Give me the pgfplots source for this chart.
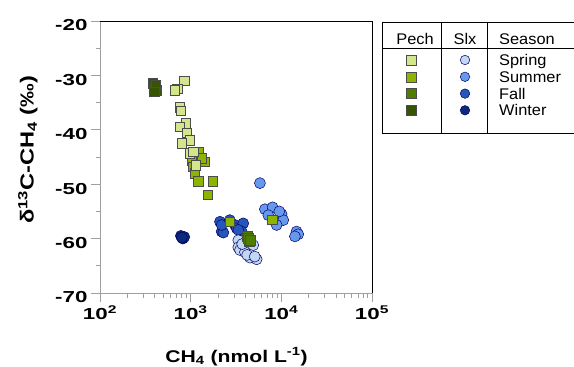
\documentclass[border=0pt]{standalone}
\usepackage{pgfplots}
\pgfplotsset{compat=1.18}
\usepackage{fontspec}
\setmainfont{Liberation Sans}
\newfontfamily\widefont[FakeStretch=1.4]{Liberation Sans}
\newfontfamily\labelfont[FakeStretch=1.25]{Liberation Sans}
\newfontfamily\legfont[FakeStretch=1.06]{Liberation Sans}
\definecolor{pspring}{HTML}{D4E68C}
\definecolor{psummer}{HTML}{8CB400}
\definecolor{pfall}{HTML}{4F7D00}
\definecolor{pwinter}{HTML}{375400}
\definecolor{sspring}{HTML}{C2D8F2}
\definecolor{ssummer}{HTML}{6699EE}
\definecolor{sfall}{HTML}{2656BB}
\definecolor{swinter}{HTML}{0D2A7A}
\tikzset{lt/.style={font=\legfont\fontsize{15.5}{18}\selectfont, inner sep=0pt}}
\pgfplotsset{
  pech/.style={only marks, mark=square*, mark size=4.75bp,
    mark options={draw=black!70, line width=0.5pt, fill=#1}},
  slx/.style={only marks, mark=*, mark size=5.5bp,
    mark options={draw=black!60!blue, line width=0.5pt, fill=#1}},
  lpech/.style={only marks, mark=square*, mark size=5bp,
    mark options={draw=black!70, line width=0.5pt, fill=#1}},
  lslx/.style={only marks, mark=*, mark size=4.75bp,
    mark options={draw=black!60!blue, line width=0.5pt, fill=#1}},
}
\begin{document}
\begin{tikzpicture}
\path[use as bounding box] (0,0) rectangle (574bp,367bp);
\begin{axis}[
  at={(100bp,74bp)}, anchor=south west, scale only axis,
  width=272bp, height=272bp,
  xmode=log, xmin=100, xmax=100000, ymin=-70, ymax=-20,
  axis lines*=left,
  axis line style={draw=gray!75, line width=0.8pt},
  tick style={draw=gray!75, line width=0.8pt},
  tick align=outside, major tick length=9bp, minor tick length=4.5bp,
  xtick={100,1000,10000,100000},
  xticklabels={10\textsuperscript{2},10\textsuperscript{3},10\textsuperscript{4},10\textsuperscript{5}},
  ytick={-70,-60,-50,-40,-30,-20},
  yticklabels={-70,-60,-50,-40,-30,-20},
  minor ytick={-65,-55,-45,-35,-25},
  ticklabel style={font=\widefont\bfseries\fontsize{16}{19}\selectfont, text=black},
  yticklabel style={yshift=-4.5bp},
  xlabel={CH\textsubscript{4} (nmol L\textsuperscript{-1})},
  ylabel={δ\textsuperscript{13}C-CH\textsubscript{4} (‰)},
  xlabel style={font=\labelfont\bfseries\fontsize{17}{20}\selectfont, at={(axis description cs:0.502,-0.2537)}, anchor=base},
  ylabel style={font=\labelfont\bfseries\fontsize{19}{22}\selectfont, at={(axis description cs:-0.265,0.526)}, anchor=center},
  clip=false,
]
% Slx circles
\addplot[slx=sfall] coordinates {(2105,-56.9) (2198,-58.7) (2293,-58.9) (2198,-57.5) (3083,-57.5) (3216,-58.1) (3800,-57.2) (3650,-58.7) (3350,-58.4) (2700,-56.6)};
\addplot[slx=sspring] coordinates {(3350,-60.3) (3350,-61.6) (3500,-62.1) (3970,-62.5) (4510,-63.5) (5340,-63.8) (4900,-61.2) (4100,-60.5) (3700,-61.0) (4200,-63.0) (5090,-63.3)};
\addplot[slx=ssummer] coordinates {(5810,-49.8) (6590,-54.6) (8010,-54.25) (10070,-55.5) (10500,-56.6) (8870,-57.5) (7180,-55.7) (9500,-55.0) (14720,-58.7) (15350,-59.2) (14130,-59.6)};
\addplot[slx=swinter] coordinates {(780,-59.5) (820,-60.0) (850,-59.7) (800,-59.8)};
% Pech squares
\addplot[pech=psummer] coordinates {(1213,-44.0) (1439,-45.9) (1322,-45.2) (1026,-45.6) (1069,-46.8) (1114,-48.0) (1213,-49.5) (1750,-49.5) (1540,-51.9) (2710,-56.9) (7943,-56.5)};
\addplot[pech=pspring] coordinates {(852,-31.0) (713,-32.5) (671,-32.7) (762,-35.9) (776,-36.5) (881,-38.8) (762,-39.4) (903,-40.5) (981,-41.9) (796,-42.5) (981,-44.3) (1069,-44.0) (1143,-46.5)};
\addplot[pech=pwinter] coordinates {(384,-31.4) (400,-32.2) (425,-32.7) (410,-31.8) (395,-33.0)};
\addplot[pech=pfall] coordinates {(4200,-59.6) (4350,-60.1) (4450,-60.6) (4300,-59.9) (4550,-60.3)};
\draw[black, line width=0.8pt] (rel axis cs:0,1) -- (rel axis cs:1,1) -- (rel axis cs:1,0);
\end{axis}
% legend as a hidden axis in picture-pixel coordinates
\begin{axis}[
  at={(382bp,234bp)}, anchor=south west, scale only axis,
  width=200bp, height=111bp,
  xmin=382, xmax=582, ymin=22, ymax=133, y dir=reverse,
  hide axis, clip=false,
]
\draw[black, line width=0.8pt] (axis cs:600,22) -- (axis cs:382,22) -- (axis cs:382,133) -- (axis cs:600,133);
\draw[black, line width=0.8pt] (axis cs:382,48) -- (axis cs:600,48);
\draw[black, line width=0.8pt] (axis cs:441,22) -- (axis cs:441,133);
\draw[black, line width=0.8pt] (axis cs:487,22) -- (axis cs:487,133);
\addplot[lpech=pspring] coordinates {(411,60)};
\addplot[lpech=psummer] coordinates {(411,76.8)};
\addplot[lpech=pfall] coordinates {(411,93.6)};
\addplot[lpech=pwinter] coordinates {(411,110.3)};
\addplot[lslx=sspring] coordinates {(465,60)};
\addplot[lslx=ssummer] coordinates {(465,76.8)};
\addplot[lslx=sfall] coordinates {(465,93.6)};
\addplot[lslx=swinter] coordinates {(465,110.3)};
\node[lt, anchor=base] at (axis cs:415,45) {Pech};
\node[lt, anchor=base] at (axis cs:465,45) {Slx};
\node[lt, anchor=base west] at (axis cs:499,45) {Season};
\node[lt, anchor=base west] at (axis cs:499,65.7) {Spring};
\node[lt, anchor=base west] at (axis cs:499,82.5) {Summer};
\node[lt, anchor=base west] at (axis cs:499,99.3) {Fall};
\node[lt, anchor=base west] at (axis cs:499,116) {Winter};
\end{axis}
\end{tikzpicture}
\end{document}
